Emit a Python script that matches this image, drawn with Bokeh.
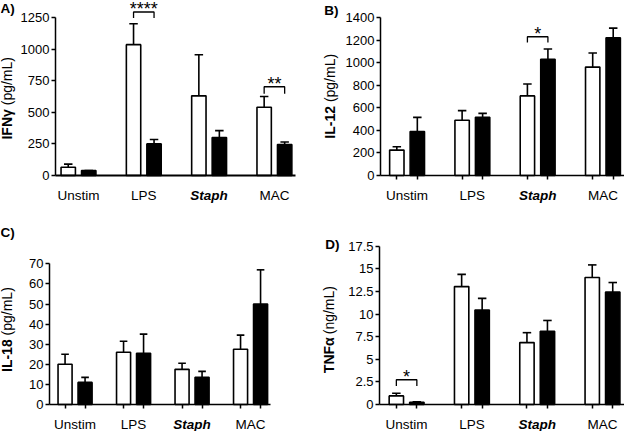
import math
from bokeh.plotting import figure
from bokeh.models import FixedTicker, Label, Range1d, LinearAxis
from bokeh.layouts import column, row
from bokeh.embed import file_html
from bokeh.resources import INLINE

# ---------------- data ----------------
categories = ["Unstim", "LPS", "Staph", "MAC"]
category_styles = ["normal", "normal", "bold italic", "normal"]

ifng_open = [65, 1035, 630, 540]
ifng_open_sem = [25, 165, 325, 85]
ifng_filled = [40, 250, 300, 245]
ifng_filled_sem = [0, 35, 55, 20]
ifng_ticks = [0, 250, 500, 750, 1000, 1250]
ifng_sig_group = [1, 3]
ifng_sig_top = [1293, 702]
ifng_sig_drop = [48, 55]
ifng_sig_text = ["****", "**"]

il12_open = [225, 490, 705, 960]
il12_open_sem = [30, 85, 105, 125]
il12_filled = [390, 515, 1030, 1220]
il12_filled_sem = [125, 35, 90, 85]
il12_ticks = [0, 200, 400, 600, 800, 1000, 1200, 1400]
il12_sig_group = [2]
il12_sig_top = [1229]
il12_sig_drop = [52]
il12_sig_text = ["*"]

il18_open = [20, 26, 17.5, 27.5]
il18_open_sem = [5, 5.5, 3, 7]
il18_filled = [11, 25.5, 13.5, 50]
il18_filled_sem = [2.5, 9.5, 3, 17]
il18_ticks = [0, 10, 20, 30, 40, 50, 60, 70]

tnf_open = [0.95, 13.05, 6.85, 14.05]
tnf_open_sem = [0.3, 1.35, 1.1, 1.4]
tnf_filled = [0.25, 10.45, 8.1, 12.45]
tnf_filled_sem = [0.05, 1.3, 1.2, 1.05]
tnf_ticks = [0, 2.5, 5, 7.5, 10, 12.5, 15, 17.5]
tnf_tick_labels = ["0", "2.5", "5", "7.5", "10", "12.5", "15", "17.5"]
tnf_sig_group = [0]
tnf_sig_top = [2.74]
tnf_sig_drop = [0.7]
tnf_sig_text = ["*"]

FONT = "Liberation Sans"
TICK_FS = "13px"
CAT_FS = "13.5px"
YLAB_FS = 14

# approximate Arial/Liberation advance widths (em) for label layout
_W = {"I": .278, "F": .611, "N": .722, "γ": .556, "L": .611, "-": .333,
      "1": .556, "2": .556, "8": .556, "T": .611, "α": .556, " ": .278,
      "(": .333, ")": .333, "p": .556, "g": .556, "/": .278, "m": .833,
      "n": .556}


def text_w(s, fs):
    return sum(_W.get(c, .556) for c in s) * fs


def make_panel(w, h, borders, xr, x_axis_end, y_end, ticks, tick_labels,
               open_v, open_e, fill_v, fill_e, off, bw,
               letter, letter_xy, ylab_bold, ylab_rest, ylab_x, ylab_cy,
               sig=None, bar_ticks=True, base_width=1.5):
    # borders describe where the plotting area sits inside the figure;
    # the frame spans the whole figure and axes are placed at fixed data locations
    bl, br, bt, bb = borders
    ppx = (w - bl - br) / (xr[1] - xr[0])
    ppy = (h - bt - bb) / y_end
    x0 = xr[0] - bl / ppx
    x1 = xr[1] + br / ppx
    y0 = -bb / ppy
    y1 = y_end + bt / ppy
    p = figure(width=w, height=h, output_backend="svg", toolbar_location=None,
               x_range=Range1d(x0, x1), y_range=Range1d(y0, y1),
               x_axis_location=None, y_axis_location=None, min_border=0)
    p.outline_line_color = None
    p.grid.visible = False
    p.background_fill_color = "white"
    p.border_fill_color = "white"

    groups = list(range(len(categories)))
    xo = [g - off for g in groups]
    xf = [g + off for g in groups]
    lw = 1.6
    p.vbar(x=xo, top=open_v, width=bw, fill_color="white", line_color="black", line_width=lw)
    p.vbar(x=xf, top=fill_v, width=bw, fill_color="black", line_color="black", line_width=lw)
    cap = 0.065
    for xs, v, e in ((xo, open_v, open_e), (xf, fill_v, fill_e)):
        tops = [a + b for a, b in zip(v, e)]
        p.segment(x0=xs, y0=v, x1=xs, y1=tops, line_color="black", line_width=lw)
        p.segment(x0=[x - cap for x in xs], y0=tops, x1=[x + cap for x in xs], y1=tops,
                  line_color="black", line_width=lw)

    if sig:
        sg, stop, sdrop, stext = sig
        for g, t, d, s in zip(sg, stop, sdrop, stext):
            p.line(x=[g - off, g - off, g + off, g + off], y=[t - d, t, t, t - d],
                   line_color="black", line_width=1.3)
            p.add_layout(Label(x=g, y=t, text=s, text_align="center",
                               text_baseline="alphabetic", y_offset=3,
                               text_font=FONT, text_font_size="18px", text_color="black"))

    # y axis at the left edge of the plotting area
    ya = LinearAxis(fixed_location=xr[0])
    ya.ticker = FixedTicker(ticks=ticks)
    ya.bounds = (0, ticks[-1])
    ya.major_label_overrides = {t: l for t, l in zip(ticks, tick_labels)}
    ya.minor_tick_line_color = None
    ya.major_tick_in = 0
    ya.major_tick_out = 4
    ya.axis_line_width = 1.5
    ya.major_tick_line_width = 1.5
    ya.major_label_standoff = 2
    ya.major_label_text_font = FONT
    ya.major_label_text_font_size = TICK_FS
    ya.major_label_text_color = "black"
    p.add_layout(ya, "left")

    # x axis along zero
    xa = LinearAxis(fixed_location=0)
    xa.ticker = FixedTicker(ticks=[], minor_ticks=(sorted(xo + xf) if bar_ticks else []))
    xa.bounds = (xr[0], x_axis_end)
    xa.major_label_text_font_size = "0px"
    xa.major_tick_line_color = None
    xa.minor_tick_in = 0
    xa.minor_tick_out = 4
    xa.minor_tick_line_width = 1.5
    xa.minor_tick_line_color = "black"
    xa.axis_line_width = base_width
    p.add_layout(xa, "below")

    for g, c, st in zip(groups, categories, category_styles):
        p.add_layout(Label(x=g, y=0, y_offset=-20, text=c,
                           text_align="center", text_baseline="middle",
                           text_font=FONT, text_font_size=CAT_FS,
                           text_font_style=st, text_color="black"))

    # panel letter (positions given from the top-left of the figure)
    p.add_layout(Label(x=letter_xy[0], y=h - letter_xy[1], x_units="screen", y_units="screen",
                       text=letter, text_align="left", text_baseline="top",
                       text_font=FONT, text_font_size="13.5px", text_font_style="bold",
                       text_color="black"))

    # y label: bold part + normal part
    fs = YLAB_FS
    total = text_w(ylab_bold + " " + ylab_rest, fs)
    start = ylab_cy + total / 2
    rest_start = start - text_w(ylab_bold + " ", fs)
    p.add_layout(Label(x=ylab_x, y=h - start, x_units="screen", y_units="screen",
                       text=ylab_bold, angle=math.pi / 2, text_align="left",
                       text_baseline="middle", text_font=FONT, text_font_size=f"{fs}px",
                       text_font_style="bold", text_color="black"))
    p.add_layout(Label(x=ylab_x, y=h - rest_start, x_units="screen", y_units="screen",
                       text=ylab_rest, angle=math.pi / 2, text_align="left",
                       text_baseline="middle", text_font=FONT, text_font_size=f"{fs}px",
                       text_color="black"))
    return p


pA = make_panel(312, 212, (55, 4, 0, 37), (-0.352, 3.522), 3.33, 1384,
                ifng_ticks, [str(t) for t in ifng_ticks],
                ifng_open, ifng_open_sem, ifng_filled, ifng_filled_sem, 0.157, 0.22,
                "A)", (0, 0), "IFNγ", "(pg/mL)", 6.8, 97.4,
                sig=(ifng_sig_group, ifng_sig_top, ifng_sig_drop, ifng_sig_text),
                bar_ticks=False, base_width=2.2)

pB = make_panel(312, 212, (68, 0, 0, 37), (-0.407, 3.33), 3.33, 1550,
                il12_ticks, [str(t) for t in il12_ticks],
                il12_open, il12_open_sem, il12_filled, il12_filled_sem, 0.157, 0.22,
                "B)", (11.7, 2.9), "IL-12", "(pg/mL)", 17.8, 95.4,
                sig=(il12_sig_group, il12_sig_top, il12_sig_drop, il12_sig_text))

pC = make_panel(312, 219, (49, 30, 30, 27), (-0.437, 3.546), 3.34, 80.6,
                il18_ticks, [str(t) for t in il18_ticks],
                il18_open, il18_open_sem, il18_filled, il18_filled_sem, 0.171, 0.24,
                "C)", (0, 12.6), "IL-18", "(pg/mL)", 6.8, 116.7)

pD = make_panel(312, 219, (67, 0, 30, 27), (-0.415, 3.337), 3.337, 17.93,
                tnf_ticks, tnf_tick_labels,
                tnf_open, tnf_open_sem, tnf_filled, tnf_filled_sem, 0.157, 0.22,
                "D)", (12.7, 24.2), "TNFα", "(ng/mL)", 16.3, 116.7,
                sig=(tnf_sig_group, tnf_sig_top, tnf_sig_drop, tnf_sig_text))

layout = column(row(pA, pB, spacing=0), row(pC, pD, spacing=0), spacing=0)
open("out.html", "w").write(file_html(layout, INLINE))
